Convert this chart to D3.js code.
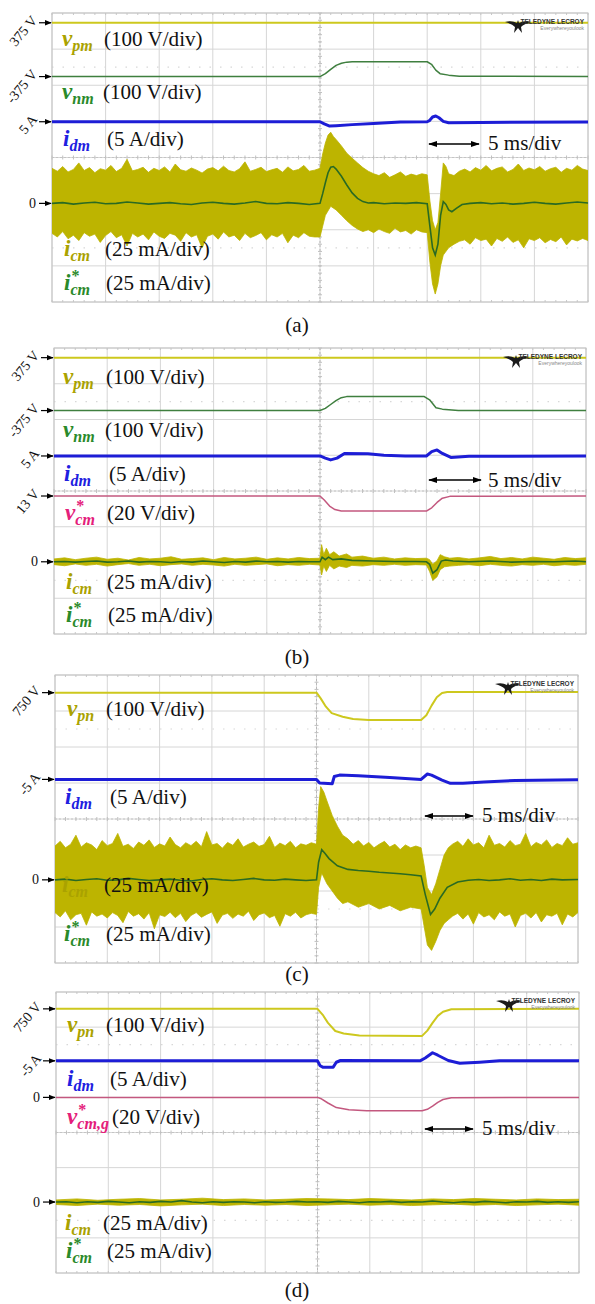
<!DOCTYPE html>
<html><head><meta charset="utf-8">
<script src="https://cdnjs.cloudflare.com/ajax/libs/d3/7.8.5/d3.min.js"></script>
<style>body{margin:0;background:#fff}svg{display:block}</style>
</head><body><script>
// ---------- DATA (time in ms, values in screen divisions) ----------
// Panel (a)
const aVpm = [[-25,3.73],[25,3.73]];
const aVnm = [[-25,2.24],[0,2.24],[0.5,2.32],[1,2.44],[1.5,2.55],[2,2.61],[2.5,2.64],[3,2.65],[10,2.65],[10.4,2.58],[10.8,2.42],[11.2,2.32],[12,2.28],[13,2.25],[25,2.24]];
const aIdm = [[-25,0.99],[0,0.99],[0.4,0.93],[0.9,0.87],[1.5,0.88],[3,0.91],[5,0.94],[7.5,0.98],[10,0.99],[10.2,1.02],[10.5,1.12],[10.8,1.15],[11.1,1.10],[11.5,1.0],[12,0.96],[15,0.97],[25,0.98]];
const aIcmUp = [[-25,-0.30],[-24.5,-0.38],[-24,-0.25],[-23.5,-0.40],[-23,-0.33],[-22.5,-0.15],[-22,-0.36],[-21.5,-0.28],[-21,-0.42],[-20.5,-0.31],
[-20,-0.35],[-19.5,-0.22],[-19,-0.39],[-18.5,-0.30],[-18,-0.05],[-17.5,-0.37],[-17,-0.33],[-16.5,-0.27],[-16,-0.41],[-15.5,-0.30],
[-15,-0.36],[-14.5,-0.26],[-14,-0.40],[-13.5,-0.18],[-13,-0.34],[-12.5,-0.38],[-12,-0.29],[-11.5,-0.35],[-11,-0.43],[-10.5,-0.32],
[-10,-0.28],[-9.5,-0.37],[-9,-0.24],[-8.5,-0.36],[-8,-0.40],[-7.5,-0.31],[-7,-0.12],[-6.5,-0.38],[-6,-0.33],[-5.5,-0.27],
[-5,-0.39],[-4.5,-0.34],[-4,-0.30],[-3.5,-0.41],[-3,-0.26],[-2.5,-0.37],[-2,-0.33],[-1.5,-0.22],[-1,-0.38],[-0.5,-0.35],
[0,-0.30],[0.25,0.10],[0.5,0.40],[0.75,0.62],[1,0.70],[1.25,0.58],[1.5,0.50],[2,0.32],[2.5,0.12],[3,-0.02],[3.5,-0.15],[4,-0.28],[4.5,-0.38],
[5,-0.45],[5.5,-0.50],[6,-0.42],[6.5,-0.55],[7,-0.48],[7.5,-0.40],[8,-0.52],[8.5,-0.46],[9,-0.50],[9.5,-0.45],[10,-0.48],
[10.25,-1.2],[10.5,-1.75],[10.75,-2.0],[11,-1.8],[11.25,-1.0],[11.5,-0.15],[11.75,-0.25],[12,-0.45],[12.5,-0.50],[13,-0.38],
[13.5,-0.32],[14,-0.40],[14.5,-0.28],[15,-0.35],[15.5,-0.22],[16,-0.37],[16.5,-0.30],[17,-0.26],[17.5,-0.40],[18,-0.33],
[18.5,-0.18],[19,-0.36],[19.5,-0.29],[20,-0.34],[20.5,-0.25],[21,-0.38],[21.5,-0.31],[22,-0.27],[22.5,-0.41],[23,-0.30],
[23.5,-0.35],[24,-0.22],[24.5,-0.32],[25,-0.36]];
const aIcmLo = [[-25,-2.10],[-24.5,-2.20],[-24,-2.05],[-23.5,-2.25],[-23,-2.15],[-22.5,-2.30],[-22,-2.08],[-21.5,-2.18],[-21,-2.12],[-20.5,-2.35],
[-20,-2.16],[-19.5,-2.05],[-19,-2.22],[-18.5,-2.14],[-18,-2.45],[-17.5,-2.10],[-17,-2.20],[-16.5,-2.12],[-16,-2.28],[-15.5,-2.06],
[-15,-2.18],[-14.5,-2.24],[-14,-2.10],[-13.5,-2.15],[-13,-2.32],[-12.5,-2.08],[-12,-2.20],[-11.5,-2.14],[-11,-2.50],[-10.5,-2.18],
[-10,-2.12],[-9.5,-2.26],[-9,-2.06],[-8.5,-2.20],[-8,-2.15],[-7.5,-2.30],[-7,-2.10],[-6.5,-2.22],[-6,-2.16],[-5.5,-2.08],
[-5,-2.28],[-4.5,-2.14],[-4,-2.20],[-3.5,-2.10],[-3,-2.36],[-2.5,-2.15],[-2,-2.22],[-1.5,-2.08],[-1,-2.18],[-0.5,-2.20],
[0,-2.20],[0.25,-1.9],[0.5,-1.6],[1,-1.35],[1.5,-1.45],[2,-1.6],[2.5,-1.75],[3,-1.88],[3.5,-1.98],[4,-2.05],[4.5,-2.0],
[5,-2.08],[5.5,-1.98],[6,-2.05],[6.5,-2.10],[7,-1.96],[7.5,-2.06],[8,-2.02],[8.5,-2.12],[9,-2.0],[9.5,-2.06],[10,-2.08],
[10.25,-2.9],[10.5,-3.5],[10.75,-3.78],[11,-3.5],[11.25,-3.0],[11.5,-2.7],[12,-2.5],[12.5,-2.4],[13,-2.32],
[13.5,-2.28],[14,-2.40],[14.5,-2.22],[15,-2.30],[15.5,-2.26],[16,-2.45],[16.5,-2.24],[17,-2.32],[17.5,-2.20],[18,-2.35],
[18.5,-2.28],[19,-2.50],[19.5,-2.25],[20,-2.30],[20.5,-2.22],[21,-2.36],[21.5,-2.27],[22,-2.33],[22.5,-2.20],[23,-2.42],
[23.5,-2.26],[24,-2.31],[24.5,-2.24],[25,-2.30]];
const aIcmStar = [[-25,-1.27],[-24,-1.25],[-23,-1.29],[-22,-1.26],[-21,-1.24],[-20,-1.28],[-19,-1.27],[-18,-1.23],[-17,-1.26],[-16,-1.29],[-15,-1.27],[-14,-1.25],[-13,-1.28],[-12,-1.30],[-11,-1.26],[-10,-1.24],[-9,-1.27],[-8,-1.29],[-7,-1.26],[-6,-1.22],[-5,-1.27],[-4,-1.28],[-3,-1.25],[-2,-1.27],[-1,-1.30],[0,-1.27],[0.25,-1.0],[0.5,-0.7],[0.75,-0.42],[1,-0.27],[1.25,-0.25],[1.5,-0.32],[2,-0.52],[2.5,-0.76],[3,-0.98],[3.5,-1.13],[4,-1.22],[4.5,-1.26],[5,-1.25],[6,-1.28],[7,-1.26],[8,-1.27],[9,-1.25],[10,-1.28],[10.25,-1.9],[10.5,-2.5],[10.75,-2.7],[11,-2.4],[11.25,-1.6],[11.5,-1.22],[11.75,-1.3],[12,-1.45],[12.3,-1.5],[12.75,-1.4],[13.25,-1.3],[14,-1.27],[15,-1.25],[16,-1.28],[17,-1.26],[18,-1.29],[19,-1.27],[20,-1.24],[21,-1.27],[22,-1.29],[23,-1.26],[24,-1.23],[25,-1.26]];

// Panel (b)
const bVpm = [[-25,3.73],[25,3.73]];
const bVnm = [[-25,2.25],[0,2.25],[0.5,2.31],[1,2.42],[1.5,2.53],[2,2.61],[2.5,2.64],[9.8,2.64],[10.3,2.55],[10.9,2.33],[11.5,2.29],[13,2.25],[25,2.25]];
const bIdm = [[-25,0.98],[0,0.98],[0.5,0.92],[1,0.87],[1.6,0.92],[2.3,1.05],[4.5,1.04],[6,1.0],[8,0.98],[10,0.98],[10.5,1.1],[11,1.15],[11.5,1.05],[12.3,0.94],[14,0.97],[25,0.98]];
const bVcm = [[-25,-0.14],[0,-0.14],[0.4,-0.25],[0.9,-0.42],[1.4,-0.52],[2,-0.56],[10,-0.56],[10.5,-0.47],[11,-0.32],[11.5,-0.2],[12.2,-0.15],[25,-0.14]];
const bIcmUp = [[-25,-1.90],[-24,-1.87],[-23,-1.92],[-22,-1.88],[-21,-1.85],[-20,-1.91],[-19,-1.88],[-18,-1.93],[-17,-1.86],[-16,-1.90],[-15,-1.88],[-14,-1.84],[-13,-1.91],[-12,-1.89],[-11,-1.87],[-10,-1.92],[-9,-1.86],[-8,-1.90],[-7,-1.88],[-6,-1.85],[-5,-1.91],[-4,-1.87],[-3,-1.90],[-2,-1.86],[-1,-1.89],[0,-1.88],[0.15,-1.5],[0.35,-1.78],[0.6,-1.6],[0.9,-1.78],[1.3,-1.7],[1.8,-1.82],[2.5,-1.76],[3,-1.85],[4,-1.82],[5,-1.88],[6,-1.85],[7,-1.9],[8,-1.87],[9,-1.89],[10,-1.88],[10.3,-1.92],[10.6,-2.05],[11,-1.95],[11.3,-1.78],[11.7,-1.84],[12.2,-1.88],[13,-1.86],[14,-1.9],[15,-1.87],[16,-1.83],[17,-1.89],[18,-1.86],[19,-1.9],[20,-1.85],[21,-1.88],[22,-1.91],[23,-1.86],[24,-1.89],[25,-1.87]];
const bIcmLo = [[-25,-2.06],[-24,-2.09],[-23,-2.04],[-22,-2.08],[-21,-2.05],[-20,-2.10],[-19,-2.06],[-18,-2.03],[-17,-2.08],[-16,-2.05],[-15,-2.09],[-14,-2.06],[-13,-2.04],[-12,-2.08],[-11,-2.05],[-10,-2.07],[-9,-2.10],[-8,-2.05],[-7,-2.08],[-6,-2.06],[-5,-2.04],[-4,-2.09],[-3,-2.06],[-2,-2.08],[-1,-2.05],[0,-2.07],[0.15,-2.35],[0.35,-2.1],[0.6,-2.25],[0.9,-2.08],[1.3,-2.18],[1.8,-2.1],[2.5,-2.14],[3,-2.08],[4,-2.1],[5,-2.06],[6,-2.08],[7,-2.05],[8,-2.08],[9,-2.06],[10,-2.07],[10.3,-2.25],[10.6,-2.5],[11,-2.4],[11.3,-2.2],[11.7,-2.12],[12.2,-2.1],[13,-2.08],[14,-2.06],[15,-2.09],[16,-2.05],[17,-2.08],[18,-2.1],[19,-2.06],[20,-2.08],[21,-2.05],[22,-2.09],[23,-2.06],[24,-2.08],[25,-2.05]];
const bIcmStar = [[-25,-1.98],[-24,-1.97],[-23,-1.99],[-22,-1.97],[-21,-1.96],[-20,-1.99],[-19,-1.98],[-18,-1.96],[-17,-1.99],[-16,-1.97],[-15,-1.98],[-14,-2.0],[-13,-1.97],[-12,-1.99],[-11,-1.96],[-10,-1.98],[-9,-2.0],[-8,-1.97],[-7,-1.99],[-6,-1.96],[-5,-1.98],[-4,-1.97],[-3,-1.99],[-2,-1.97],[-1,-1.98],[0,-1.98],[0.2,-1.85],[0.5,-1.92],[0.8,-1.85],[1.2,-1.92],[2,-1.9],[3,-1.94],[5,-1.96],[7,-1.97],[9,-1.97],[10,-1.98],[10.3,-2.05],[10.6,-2.3],[11,-2.2],[11.4,-1.96],[11.8,-1.93],[12.5,-1.96],[14,-1.98],[16,-1.96],[18,-1.99],[20,-1.97],[22,-1.98],[24,-1.96],[25,-1.98]];

// Panel (c)
const cVpn = [[-25,3.51],[0,3.51],[0.4,3.35],[0.9,3.12],[1.45,2.94],[2.5,2.84],[3.5,2.78],[5,2.75],[10,2.75],[10.5,2.88],[11,3.15],[11.5,3.38],[12,3.5],[12.5,3.53],[25,3.53]];
const cIdm = [[-25,1.10],[0,1.10],[0.3,1.0],[1.5,0.98],[1.7,1.18],[2.2,1.22],[4,1.2],[7,1.15],[10,1.10],[10.6,1.25],[11,1.22],[12,1.08],[12.8,0.99],[14,0.99],[16,1.03],[19,1.07],[25,1.09]];
const cIcmUp = [[-25,-0.75],[-24.5,-0.62],[-24,-0.80],[-23.5,-0.70],[-23,-0.45],[-22.5,-0.78],[-22,-0.66],[-21.5,-0.72],[-21,-0.85],[-20.5,-0.60],
[-20,-0.74],[-19.5,-0.68],[-19,-0.40],[-18.5,-0.76],[-18,-0.70],[-17.5,-0.82],[-17,-0.64],[-16.5,-0.73],[-16,-0.58],[-15.5,-0.79],
[-15,-0.69],[-14.5,-0.75],[-14,-0.50],[-13.5,-0.71],[-13,-0.80],[-12.5,-0.66],[-12,-0.74],[-11.5,-0.62],[-11,-0.77],[-10.5,-0.35],
[-10,-0.72],[-9.5,-0.68],[-9,-0.81],[-8.5,-0.65],[-8,-0.73],[-7.5,-0.55],[-7,-0.78],[-6.5,-0.70],[-6,-0.64],[-5.5,-0.76],
[-5,-0.71],[-4.5,-0.48],[-4,-0.79],[-3.5,-0.67],[-3,-0.74],[-2.5,-0.62],[-2,-0.80],[-1.5,-0.69],[-1,-0.73],[-0.5,-0.66],
[0,-0.7],[0.2,0.3],[0.4,0.9],[0.7,0.75],[1,0.5],[1.5,0.1],[2,-0.2],[2.5,-0.45],[3,-0.55],[3.5,-0.7],[4,-0.6],[4.5,-0.75],[5,-0.65],[5.5,-0.8],[6,-0.7],[6.5,-0.62],[7,-0.78],[7.5,-0.7],[8,-0.85],[8.5,-0.72],[9,-0.8],[9.5,-0.75],[10,-0.8],
[10.3,-1.3],[10.6,-1.9],[11,-2.1],[11.4,-1.8],[11.8,-1.4],[12.2,-1.0],[12.6,-0.8],[13,-0.7],
[13.5,-0.62],[14,-0.76],[14.5,-0.55],[15,-0.72],[15.5,-0.66],[16,-0.80],[16.5,-0.45],[17,-0.73],[17.5,-0.68],[18,-0.78],
[18.5,-0.60],[19,-0.74],[19.5,-0.70],[20,-0.40],[20.5,-0.77],[21,-0.65],[21.5,-0.72],[22,-0.58],[22.5,-0.79],[23,-0.68],
[23.5,-0.74],[24,-0.52],[24.5,-0.70],[25,-0.66]];
const cIcmLo = [[-25,-2.60],[-24.5,-2.72],[-24,-2.55],[-23.5,-2.80],[-23,-2.66],[-22.5,-2.62],[-22,-2.95],[-21.5,-2.58],[-21,-2.70],[-20.5,-2.64],
[-20,-2.75],[-19.5,-2.60],[-19,-2.68],[-18.5,-2.88],[-18,-2.57],[-17.5,-2.70],[-17,-2.63],[-16.5,-2.78],[-16,-2.60],[-15.5,-3.05],
[-15,-2.66],[-14.5,-2.71],[-14,-2.59],[-13.5,-2.74],[-13,-2.62],[-12.5,-2.85],[-12,-2.68],[-11.5,-2.60],[-11,-2.73],[-10.5,-2.65],
[-10,-2.58],[-9.5,-2.90],[-9,-2.67],[-8.5,-2.62],[-8,-2.76],[-7.5,-2.64],[-7,-2.70],[-6.5,-2.56],[-6,-2.82],[-5.5,-2.66],
[-5,-2.61],[-4.5,-2.74],[-4,-2.68],[-3.5,-2.98],[-3,-2.63],[-2.5,-2.70],[-2,-2.59],[-1.5,-2.75],[-1,-2.66],[-0.5,-2.62],
[0,-2.65],[0.2,-1.9],[0.5,-1.5],[1,-1.8],[1.5,-2.0],[2,-2.2],[2.5,-2.35],[3,-2.3],[4,-2.45],[5,-2.35],[6,-2.5],[7,-2.4],[8,-2.55],[9,-2.45],[10,-2.5],
[10.3,-3.0],[10.6,-3.5],[11,-3.65],[11.4,-3.4],[11.8,-3.1],[12.2,-2.9],[12.6,-2.8],[13,-2.7],
[13.5,-2.62],[14,-2.78],[14.5,-2.64],[15,-2.92],[15.5,-2.60],[16,-2.72],[16.5,-2.66],[17,-2.80],[17.5,-2.58],[18,-2.70],
[18.5,-2.64],[19,-3.0],[19.5,-2.68],[20,-2.62],[20.5,-2.75],[21,-2.60],[21.5,-2.86],[22,-2.66],[22.5,-2.70],[23,-2.62],
[23.5,-2.94],[24,-2.64],[24.5,-2.72],[25,-2.60]];
const cIcmStar = [[-25,-1.69],[-24,-1.67],[-23,-1.71],[-22,-1.68],[-21,-1.66],[-20,-1.70],[-19,-1.69],[-18,-1.65],[-17,-1.68],[-16,-1.71],[-15,-1.69],[-14,-1.67],[-13,-1.70],[-12,-1.72],[-11,-1.68],[-10,-1.66],[-9,-1.69],[-8,-1.71],[-7,-1.68],[-6,-1.65],[-5,-1.69],[-4,-1.70],[-3,-1.67],[-2,-1.69],[-1,-1.71],[0,-1.69],[0.2,-1.2],[0.5,-0.85],[0.8,-0.95],[1.2,-1.1],[2,-1.3],[3,-1.4],[4,-1.43],[5,-1.45],[6,-1.48],[7,-1.5],[8,-1.52],[9,-1.55],[10,-1.58],[10.4,-2.1],[10.9,-2.65],[11.3,-2.5],[11.8,-2.2],[12.5,-1.9],[13.5,-1.75],[14.5,-1.7],[15.5,-1.68],[16.5,-1.71],[17.5,-1.69],[18.5,-1.66],[19.5,-1.70],[20.5,-1.68],[21.5,-1.71],[22.5,-1.67],[23.5,-1.69],[25,-1.68]];

// Panel (d)
const dVpn = [[-25,3.52],[0,3.52],[0.5,3.35],[1,3.12],[1.7,2.89],[2.5,2.82],[4,2.76],[10,2.75],[10.5,2.9],[11,3.12],[11.5,3.32],[12,3.44],[12.8,3.51],[25,3.52]];
const dIdm = [[-25,2.04],[0,2.04],[0.25,1.9],[0.5,1.86],[1.5,1.86],[1.8,2.0],[2.2,2.05],[9.8,2.04],[10.3,2.12],[11,2.27],[11.5,2.2],[12.5,2.05],[13.6,1.97],[15.5,2.0],[17.4,2.04],[25,2.04]];
const dVcm = [[-25,1.0],[0,1.0],[0.3,0.97],[1,0.84],[1.8,0.71],[3,0.65],[4.7,0.62],[10,0.62],[10.5,0.66],[11,0.75],[11.5,0.86],[12,0.94],[12.8,0.99],[25,1.0]];
const dIcmUp = [[-25,-1.92],[-23,-1.89],[-21,-1.93],[-19,-1.90],[-17,-1.88],[-15,-1.92],[-13,-1.90],[-11,-1.87],[-9,-1.91],[-7,-1.89],[-5,-1.92],[-3,-1.90],[-1,-1.88],[1,-1.89],[3,-1.91],[5,-1.88],[7,-1.90],[9,-1.92],[11,-1.89],[13,-1.91],[15,-1.88],[17,-1.90],[19,-1.92],[21,-1.89],[23,-1.91],[25,-1.90]];
const dIcmLo = [[-25,-2.05],[-23,-2.08],[-21,-2.04],[-19,-2.07],[-17,-2.05],[-15,-2.09],[-13,-2.06],[-11,-2.04],[-9,-2.08],[-7,-2.05],[-5,-2.07],[-3,-2.05],[-1,-2.08],[1,-2.06],[3,-2.04],[5,-2.07],[7,-2.05],[9,-2.08],[11,-2.06],[13,-2.04],[15,-2.07],[17,-2.05],[19,-2.08],[21,-2.06],[23,-2.04],[25,-2.07]];
const dIcmStar = [[-25,-1.98],[-24,-1.97],[-23,-2.0],[-22,-1.97],[-21,-1.99],[-20,-1.96],[-19,-1.98],[-18,-2.0],[-17,-1.97],[-16,-1.99],[-15,-1.96],[-14,-1.98],[-13,-1.94],[-12,-1.98],[-11,-2.0],[-10,-1.97],[-9,-1.99],[-8,-1.97],[-7,-1.98],[-6,-2.0],[-5,-1.97],[-4,-1.99],[-3,-1.98],[-2,-1.96],[-1,-1.98],[0,-1.97],[1,-1.99],[2,-1.96],[3,-1.98],[4,-2.0],[5,-1.97],[6,-1.98],[7,-1.96],[8,-1.99],[9,-1.97],[10,-1.98],[11,-1.95],[12,-1.98],[13,-2.0],[14,-1.97],[15,-1.99],[16,-1.96],[17,-1.98],[18,-2.0],[19,-1.97],[20,-1.98],[21,-1.96],[22,-1.99],[23,-1.97],[24,-1.99],[25,-1.97]];

// Marker texts, label texts, captions
const aMarkers = ['375 V','-375 V','5 A','0'];
const bMarkers = ['375 V','-375 V','5 A','13 V','0'];
const cMarkers = ['750 V','-5 A','0'];
const dMarkers = ['750 V','-5 A','0','0'];
const captions = ['(a)','(b)','(c)','(d)'];
const timeBase = '5 ms/div';

// ---------- FONT PICK (serif, Times-like) ----------
function hasFont(name){
  const c = document.createElement('canvas').getContext('2d');
  const s = 'mmmmmmmmmmlliWW0123(abc)';
  let diff = false;
  ['monospace','sans-serif'].forEach(fb => {
    c.font = `40px ${fb}`; const w0 = c.measureText(s).width;
    c.font = `40px "${name}", ${fb}`; const w1 = c.measureText(s).width;
    if (Math.abs(w0-w1) > 0.5) diff = true;
  });
  return diff;
}
const serifCands = ['Liberation Serif','Tinos','Times New Roman','Times','Nimbus Roman','FreeSerif','DejaVu Serif','Noto Serif'];
const FONTNAME = serifCands.find(hasFont) || 'serif';
const SERIF = `"${FONTNAME}", serif`;
// scale so that "(100 V/div)" is ~100 px wide like the reference
const fitCtx = document.createElement('canvas').getContext('2d');
fitCtx.font = `21px ${SERIF}`;
const K = Math.min(1.05, Math.max(0.7, 99 / fitCtx.measureText('(100 V/div)').width));
const fs = v => (v*K).toFixed(2)+'px';

// ---------- STYLE ----------
const COL = {yel:'#cdc81e', grn:'#3f7f3f', blu:'#1d1dd6', pink:'#c3587f', band:'#bdb400', star:'#2a6a22',
  lYel:'#aaa200', lGrn:'#2a8a2a', lBlu:'#2020e0', lPink:'#e4207a'};

const W = 595, H = 1304;
const svg = d3.select('body').append('svg').attr('width', W).attr('height', H).style('font-family', SERIF);

const panels = [
 { box:[52,13,588,302], cap:[297,332], tb:[428,480,144,488,150],
   lines:[[aVpm,COL.yel,2],[aVnm,COL.grn,1.5],[aIdm,COL.blu,3]], band:[aIcmUp,aIcmLo], star:aIcmStar,
   marks:[[aVpm,aMarkers[0],1],[aVnm,aMarkers[1],1],[aIdm,aMarkers[2],1],[aIcmStar,aMarkers[3],0]],
   labels:[['v','pm',0,COL.lYel,62,46,'(100 V/div)',104],['v','nm',0,COL.lGrn,62,99,'(100 V/div)',103],
           ['i','dm',0,COL.lBlu,63,146,'(5 A/div)',107],['i','cm',0,COL.lYel,64,256,'(25 mA/div)',105],
           ['i','cm',1,COL.lGrn,64,290,'(25 mA/div)',106]] },
 { box:[54,348,586,634], cap:[297,664], tb:[428,482,480,488,487],
   lines:[[bVpm,COL.yel,2],[bVnm,COL.grn,1.5],[bIdm,COL.blu,3],[bVcm,COL.pink,1.5]], band:[bIcmUp,bIcmLo], star:bIcmStar,
   marks:[[bVpm,bMarkers[0],1],[bVnm,bMarkers[1],1],[bIdm,bMarkers[2],1],[bVcm,bMarkers[3],1],[bIcmStar,bMarkers[4],0]],
   labels:[['v','pm',0,COL.lYel,63,384,'(100 V/div)',106],['v','nm',0,COL.lGrn,63,437,'(100 V/div)',105],
           ['i','dm',0,COL.lBlu,64,481,'(5 A/div)',109],['v','cm',1,COL.lPink,65,520,'(20 V/div)',107],
           ['i','cm',0,COL.lYel,66,589,'(25 mA/div)',107],['i','cm',1,COL.lGrn,66,622,'(25 mA/div)',108]] },
 { box:[55,675,578,963], cap:[297,981], tb:[424,474,816,482,822],
   lines:[[cVpn,COL.yel,2],[cIdm,COL.blu,3]], band:[cIcmUp,cIcmLo], star:cIcmStar,
   marks:[[cVpn,cMarkers[0],1],[cIdm,cMarkers[1],1],[cIcmStar,cMarkers[2],0]],
   labels:[['v','pn',0,COL.lYel,67,716,'(100 V/div)',106],['i','dm',0,COL.lBlu,65,804,'(5 A/div)',110],
           ['i','cm',0,COL.lYel,62,892,'(25 mA/div)',104],['i','cm',1,COL.lGrn,64,941,'(25 mA/div)',106]] },
 { box:[56,992,579,1273], cap:[297,1297], tb:[424,474,1129,482,1135],
   lines:[[dVpn,COL.yel,2],[dIdm,COL.blu,3],[dVcm,COL.pink,1.5]], band:[dIcmUp,dIcmLo], star:dIcmStar,
   marks:[[dVpn,dMarkers[0],1],[dIdm,dMarkers[1],1],[dVcm,dMarkers[2],0],[dIcmStar,dMarkers[3],0]],
   labels:[['v','pn',0,COL.lYel,67,1032,'(100 V/div)',106],['i','dm',0,COL.lBlu,67,1086,'(5 A/div)',110],
           ['v','cm,g',1,COL.lPink,67,1124,'(20 V/div)',112],['i','cm',0,COL.lYel,65,1230,'(25 mA/div)',103],
           ['i','cm',1,COL.lGrn,66,1258,'(25 mA/div)',107]] }
];

const defs = svg.append('defs');
defs.append('marker').attr('id','ah').attr('viewBox','0 0 10 10').attr('refX',9).attr('refY',5)
  .attr('markerWidth',6).attr('markerHeight',6).attr('orient','auto')
  .append('path').attr('d','M0,1 L10,5 L0,9 Z').attr('fill','#000');
defs.append('marker').attr('id','ah2').attr('viewBox','0 0 10 10').attr('refX',9).attr('refY',5)
  .attr('markerWidth',7).attr('markerHeight',7).attr('orient','auto-start-reverse')
  .append('path').attr('d','M0,1.5 L10,5 L0,8.5 Z').attr('fill','#000');

panels.forEach((P, pi) => {
  const [x0,y0,x1,y1] = P.box;
  const x = d3.scaleLinear().domain([-25,25]).range([x0,x1]);
  const y = d3.scaleLinear().domain([-4,4]).range([y1,y0]);
  const g = svg.append('g');
  const clipId = 'clip'+pi;
  defs.append('clipPath').attr('id',clipId).append('rect').attr('x',x0).attr('y',y0).attr('width',x1-x0).attr('height',y1-y0);

  // grid
  const grid = g.append('g').attr('stroke','#d6d6d6').attr('stroke-width',1);
  d3.range(-25,25.01,5).forEach(t => grid.append('line').attr('x1',x(t)).attr('x2',x(t)).attr('y1',y0).attr('y2',y1));
  d3.range(-4,4.01,1).forEach(v => grid.append('line').attr('x1',x0).attr('x2',x1).attr('y1',y(v)).attr('y2',y(v)));
  [-2.5,2.5].forEach(v => g.append('line').attr('x1',x0).attr('x2',x1).attr('y1',y(v)).attr('y2',y(v))
     .attr('stroke','#d8d8d8').attr('stroke-dasharray','1.5,9').attr('stroke-width',1.2));
  // center lines with ticks
  g.append('line').attr('x1',x(0)).attr('x2',x(0)).attr('y1',y0).attr('y2',y1).attr('stroke','#b8b8b8').attr('stroke-dasharray','2,2');
  g.append('line').attr('x1',x0).attr('x2',x1).attr('y1',y(0)).attr('y2',y(0)).attr('stroke','#c4c4c4').attr('stroke-dasharray','2,2');
  d3.range(-25,25.01,1).forEach(t => {
    g.append('line').attr('x1',x(t)).attr('x2',x(t)).attr('y1',y(0)-2).attr('y2',y(0)+2).attr('stroke','#c0c0c0');
    g.append('line').attr('x1',x(t)).attr('x2',x(t)).attr('y1',y0).attr('y2',y0+2).attr('stroke','#c8c8c8');
    g.append('line').attr('x1',x(t)).attr('x2',x(t)).attr('y1',y1-2).attr('y2',y1).attr('stroke','#c8c8c8');
  });
  d3.range(-4,4.01,0.2).forEach(v => g.append('line').attr('x1',x(0)-2).attr('x2',x(0)+2).attr('y1',y(v)).attr('y2',y(v)).attr('stroke','#c0c0c0'));
  g.append('rect').attr('x',x0).attr('y',y0).attr('width',x1-x0).attr('height',y1-y0).attr('fill','none').attr('stroke','#c4c4c4');

  const tr = g.append('g').attr('clip-path',`url(#${clipId})`);
  const line = d3.line().x(d=>x(d[0])).y(d=>y(d[1]));
  // band (icm)
  const poly = P.band[0].concat(P.band[1].slice().reverse());
  tr.append('path').attr('d', line(poly)+'Z').attr('fill',COL.band).attr('stroke',COL.band).attr('stroke-width',0.8).attr('stroke-linejoin','miter');
  tr.append('path').attr('d', line(P.star)).attr('fill','none').attr('stroke',COL.star).attr('stroke-width',1.6);
  P.lines.forEach(([d,c,w]) => tr.append('path').attr('d',line(d)).attr('fill','none').attr('stroke',c).attr('stroke-width',w).attr('stroke-linejoin','round'));

  // markers
  P.marks.forEach(([d,txt,rot]) => {
    const yy = y(d[0][1]);
    g.append('line').attr('x1',x0-13).attr('x2',x0-1).attr('y1',yy).attr('y2',yy).attr('stroke','#000').attr('stroke-width',1.2).attr('marker-end','url(#ah)');
    if (rot) {
      g.append('text').attr('transform',`translate(${x0-14},${yy-2}) rotate(-50)`).attr('text-anchor','end')
        .style('font-size',fs(14)).attr('fill','#111').text(txt);
    } else {
      g.append('text').attr('x',x0-16).attr('y',yy+4.5).attr('text-anchor','end').style('font-size',fs(14)).attr('fill','#111').text(txt);
    }
  });

  // labels: italic bold symbol, subscript, optional superscript star in one text element
  P.labels.forEach(([main,sub,star,col,lx,ly,desc,dx]) => {
    const t = g.append('text').attr('x',lx).attr('y',ly).attr('fill',col).style('font-weight','bold').style('font-style','italic');
    t.append('tspan').style('font-size',fs(23)).text(main);
    if (star) {
      const s = t.append('tspan').attr('dy',-9).attr('dx',1).style('font-size',fs(16)).style('font-style','normal').text('*');
      const sw = s.node().getComputedTextLength();
      t.append('tspan').attr('dy',14).attr('dx',-sw-1).style('font-size',fs(16)).text(sub);
    } else {
      t.append('tspan').attr('dy',5).style('font-size',fs(16)).text(sub);
    }
    g.append('text').attr('x',dx).attr('y',ly).style('font-size',fs(21)).attr('fill','#111').text(desc);
  });

  // timebase
  const [ax0,ax1,ay,tx,ty] = P.tb;
  g.append('line').attr('x1',ax0+1).attr('x2',ax1-1).attr('y1',ay).attr('y2',ay).attr('stroke','#000').attr('stroke-width',1.3)
    .attr('marker-start','url(#ah2)').attr('marker-end','url(#ah2)');
  g.append('text').attr('x',tx).attr('y',ty).style('font-size',fs(21)).attr('fill','#111').text(timeBase);

  // logo (right-aligned inside the frame)
  const lg = g.append('g').attr('transform',`translate(${x1-4},${y0+12})`);
  lg.append('path').attr('transform','translate(-66,0)')
    .attr('d','M-13,-3 Q-6,-5 -1,-2 L0,-5 L1,-2 Q6,-5 13,-3 Q6,-1 3,2 L4,8 L0,3 L-4,8 L-3,2 Q-6,-1 -13,-3 Z').attr('fill','#1a1a1a');
  lg.append('text').attr('x',0).attr('y',-1).attr('text-anchor','end').style('font-size','6.5px').style('font-family','"Liberation Sans", Arial, sans-serif').style('font-weight','bold').attr('fill','#333').text('TELEDYNE LECROY');
  lg.append('text').attr('x',0).attr('y',5).attr('text-anchor','end').style('font-size','5px').style('font-family','"Liberation Sans", Arial, sans-serif').attr('fill','#888').text('Everywhereyoulook');

  // caption
  svg.append('text').attr('x',P.cap[0]).attr('y',P.cap[1]).attr('text-anchor','middle').style('font-size',fs(21)).attr('fill','#111').text(captions[pi]);
});
</script></body></html>
